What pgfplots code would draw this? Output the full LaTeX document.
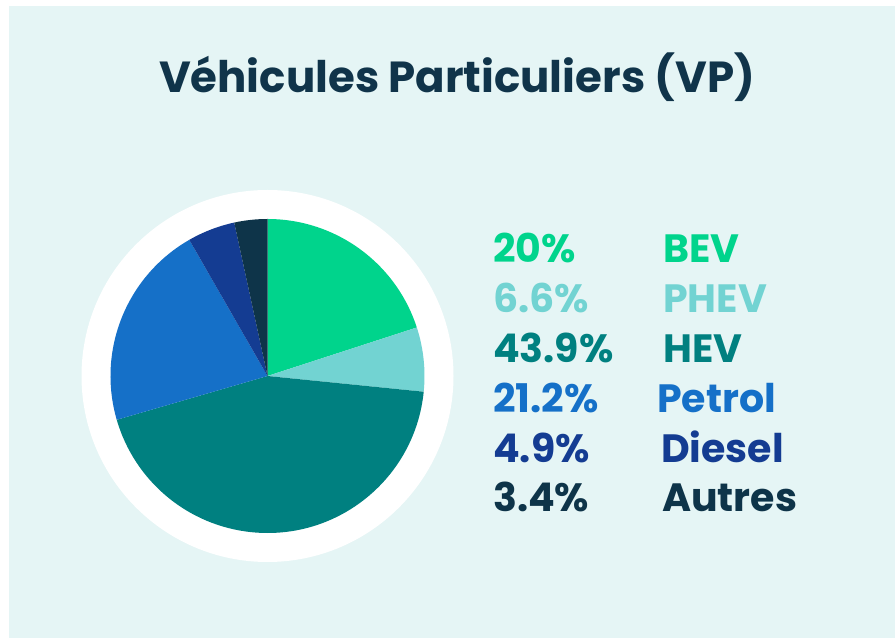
\documentclass[border=0pt]{standalone}
\usepackage{fontspec}
\setmainfont{Poppins}
\usepackage{pgfplots}
\usepackage{pgfplotstable}
\pgfplotsset{compat=1.18}

\definecolor{bg}{HTML}{E5F5F5}
\definecolor{titlecol}{HTML}{10344A}
\definecolor{cBEV}{HTML}{00D48C}
\definecolor{cPHEV}{HTML}{72D3D2}
\definecolor{cHEV}{HTML}{008080}
\definecolor{cPetrol}{HTML}{1570C8}
\definecolor{cDiesel}{HTML}{143C92}
\definecolor{cAutres}{HTML}{0E3449}

\newcommand\legfont{\bfseries\fontsize{39.5}{40}\selectfont}

% share of each type, in %, clockwise from 12 o'clock
\pgfplotstableread{
name   value col     lx
BEV    20    cBEV    663
PHEV   6.6   cPHEV   663
HEV    43.9  cHEV    663
Petrol 21.2  cPetrol 657
Diesel 4.9   cDiesel 661
Autres 3.4   cAutres 662
}\sharetable

\begin{document}
\begin{tikzpicture}
\begin{axis}[x=1pt, y=1pt, xmin=0, xmax=895, ymin=0, ymax=639,
  hide axis, clip=false]
\fill[white] (axis cs:0,0) rectangle (axis cs:895,639);
\fill[bg] (axis cs:9,1) rectangle (axis cs:895,633);
\node[anchor=base, text=titlecol, font=\bfseries\fontsize{43.5}{44}\selectfont]
  at (axis cs:457,546) {Véhicules Particuliers (VP)};
\fill[white] (axis cs:267.5,263) circle[radius=186pt];
\gdef\cum{0}
\pgfplotsforeachungrouped \i in {0,...,5}{%
  \pgfplotstablegetelem{\i}{value}\of\sharetable \let\sval\pgfplotsretval
  \pgfplotstablegetelem{\i}{name}\of\sharetable \let\sname\pgfplotsretval
  \pgfplotstablegetelem{\i}{col}\of\sharetable \let\scol\pgfplotsretval
  \pgfplotstablegetelem{\i}{lx}\of\sharetable \let\slx\pgfplotsretval
  \pgfmathsetmacro\sa{90-3.6*\cum}%
  \pgfmathsetmacro\ea{90-3.6*(\cum+\sval)}%
  \pgfmathsetmacro\ly{376-49.8*\i}%
  \edef\cmd{%
    \noexpand\fill[\scol] (axis cs:267.5,263) -- ++(\sa:157pt)
      arc[start angle=\sa, end angle=\ea, radius=157pt] -- cycle;
    \noexpand\node[anchor=base west, inner sep=0pt, text=\scol, font=\noexpand\legfont]
      at (axis cs:493,\ly) {\sval\noexpand\%};
    \noexpand\node[anchor=base west, inner sep=0pt, text=\scol, font=\noexpand\legfont]
      at (axis cs:\slx,\ly) {\sname};
  }%
  \cmd
  \pgfmathsetmacro\cum{\cum+\sval}%
  \xdef\cum{\cum}%
}
\end{axis}
\end{tikzpicture}
\end{document}
